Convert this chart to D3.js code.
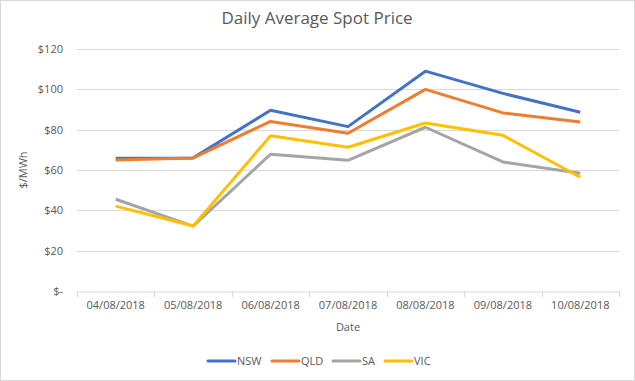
<!DOCTYPE html>
<html>
<head>
<meta charset="utf-8">
<script src="https://cdn.jsdelivr.net/npm/d3@7"></script>
<style>
	body { margin: 0; background: #fff; }
	svg text { font-family: "Open Sans", "Liberation Sans", sans-serif; fill: #595959; }
</style>
</head>
<body>
<svg id="chart" width="635" height="381"></svg>
<script>
var dates = ["04/08/2018", "05/08/2018", "06/08/2018", "07/08/2018", "08/08/2018", "09/08/2018", "10/08/2018"];
var nsw = [65.8, 66.0, 89.6, 81.5, 109.0, 98.0, 88.6];
var qld = [65.0, 66.0, 84.1, 78.2, 100.0, 88.3, 83.8];
var sa = [45.5, 32.2, 67.8, 64.8, 81.2, 64.0, 58.4];
var vic = [42.1, 32.2, 77.0, 71.3, 83.3, 77.2, 56.4];
var yTicks = [0, 20, 40, 60, 80, 100, 120];

var series = [
	{ name: "NSW", values: nsw, color: "#4472C4" },
	{ name: "QLD", values: qld, color: "#ED7D31" },
	{ name: "SA", values: sa, color: "#A5A5A5" },
	{ name: "VIC", values: vic, color: "#FFC000" }
];

var svg = d3.select("#chart");

// outer border like the Excel chart area
svg.append("rect")
	.attr("x", 0.5).attr("y", 0.5)
	.attr("width", 634).attr("height", 380)
	.attr("fill", "none")
	.attr("stroke", "#d9d9d9");

var plotLeft = 77, plotRight = 619, plotTop = 49, plotBottom = 291;

var x = d3.scaleBand().domain(dates).range([plotLeft, plotRight]);
var y = d3.scaleLinear().domain([0, 120]).range([plotBottom, plotTop]);

// gridlines
svg.append("g")
	.selectAll("line")
	.data(yTicks.filter((d) => d > 0))
	.enter()
	.append("line")
	.attr("x1", plotLeft).attr("x2", plotRight)
	.attr("y1", (d) => Math.round(y(d)) + 0.5)
	.attr("y2", (d) => Math.round(y(d)) + 0.5)
	.attr("stroke", "#d9d9d9");

// y labels
svg.append("g")
	.selectAll("text")
	.data(yTicks)
	.enter()
	.append("text")
	.attr("x", 63)
	.attr("y", (d) => y(d))
	.attr("dy", "0.35em")
	.attr("text-anchor", "end")
	.style("font-size", "11px")
	.text((d) => d === 0 ? "$-" : "$" + d);

// x axis
var xAxis = svg.append("g")
	.attr("transform", "translate(0," + (plotBottom + 0.5) + ")")
	.call(d3.axisBottom(x).tickSize(0).tickPadding(10));
xAxis.select(".domain").attr("stroke", "#d9d9d9");
xAxis.selectAll("text")
	.style("font-size", "11px")
	.attr("fill", "#595959");

// band boundary ticks
var bounds = dates.map((d) => x(d)).concat([plotRight]);
svg.append("g")
	.selectAll("line")
	.data(bounds)
	.enter()
	.append("line")
	.attr("x1", (d) => Math.round(d) + 0.5)
	.attr("x2", (d) => Math.round(d) + 0.5)
	.attr("y1", plotBottom)
	.attr("y2", plotBottom + 6)
	.attr("stroke", "#d9d9d9");

// lines
var line = d3.line()
	.x((d, i) => x(dates[i]) + x.bandwidth() / 2)
	.y((d) => y(d));

svg.append("g")
	.selectAll("path")
	.data(series)
	.enter()
	.append("path")
	.attr("d", (d) => line(d.values))
	.attr("fill", "none")
	.attr("stroke", (d) => d.color)
	.attr("stroke-width", 3)
	.attr("stroke-linejoin", "round");

// title and axis titles
svg.append("text")
	.attr("x", 317).attr("y", 24)
	.attr("text-anchor", "middle")
	.style("font-size", "17px")
	.text("Daily Average Spot Price");

svg.append("text")
	.attr("x", 348).attr("y", 331)
	.attr("text-anchor", "middle")
	.style("font-size", "11px")
	.text("Date");

svg.append("text")
	.attr("transform", "translate(27,170) rotate(-90)")
	.attr("text-anchor", "middle")
	.style("font-size", "11px")
	.text("$/MWh");

// legend
var legendX = [208, 272, 333, 385];
var legend = svg.append("g")
	.selectAll("g")
	.data(series)
	.enter()
	.append("g")
	.attr("transform", (d, i) => "translate(" + legendX[i] + ",361)");
legend.append("line")
	.attr("x1", 0).attr("x2", 27)
	.attr("stroke", (d) => d.color)
	.attr("stroke-width", 3)
	.attr("stroke-linecap", "round");
legend.append("text")
	.attr("x", 29)
	.attr("dy", "0.35em")
	.style("font-size", "11px")
	.text((d) => d.name);
</script>
</body>
</html>
